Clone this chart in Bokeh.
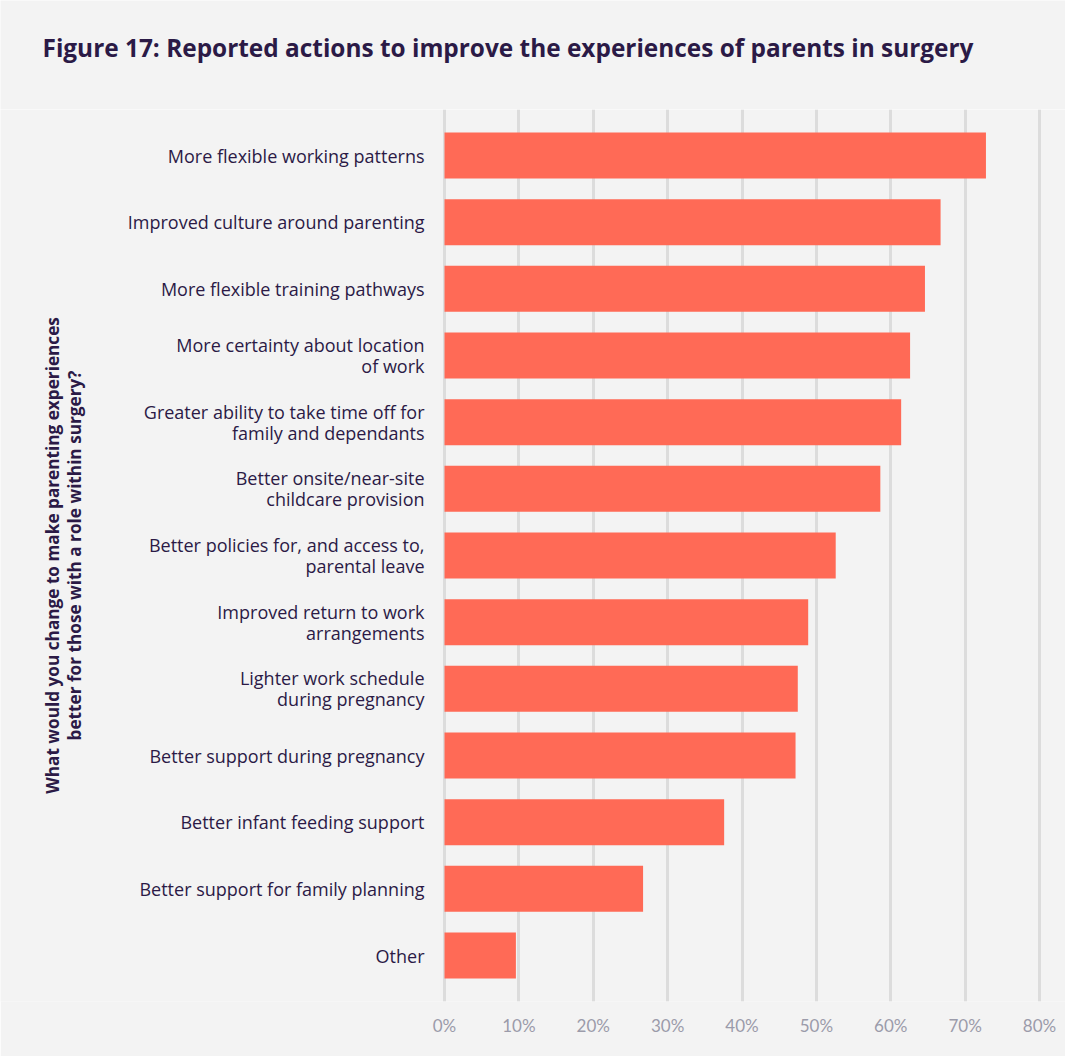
from bokeh.plotting import figure
from bokeh.layouts import column
from bokeh.models import Range1d, FixedTicker, PrintfTickFormatter, ColumnDataSource
from bokeh.core.properties import value
from bokeh.embed import file_html
from bokeh.resources import INLINE
import math

categories = [
    "More flexible working patterns",
    "Improved culture around parenting",
    "More flexible training pathways",
    "More certainty about location\nof work",
    "Greater ability to take time off for\nfamily and dependants",
    "Better onsite/near-site\nchildcare provision",
    "Better policies for, and access to,\nparental leave",
    "Improved return to work\narrangements",
    "Lighter work schedule\nduring pregnancy",
    "Better support during pregnancy",
    "Better infant feeding support",
    "Better support for family planning",
    "Other",
]
values = [72.8, 66.7, 64.6, 62.6, 61.4, 58.6, 52.6, 48.9, 47.5, 47.2, 37.6, 26.7, 9.6]
tick_values = [0, 10, 20, 30, 40, 50, 60, 70, 80]
title_text = "Figure 17: Reported actions to improve the experiences of parents in surgery"
yaxis_title = "What would you change to make parenting experiences\nbetter for those with a role within surgery?"

BG = "#f3f3f3"
DARK = "#2b1a46"
BAR = "#ff6a56"

W, H = 1065, 1056
TOP_H = 109
frame_bottom = 1001
px_per_unit = (1039 - 444) / 80.0
x_start = -444 / px_per_unit
x_end = x_start + W / px_per_unit

n = len(categories)
pad = 0.69

# Title strip
t = figure(width=W, height=TOP_H, output_backend="svg", toolbar_location=None,
           x_range=Range1d(0, W), y_range=Range1d(TOP_H, 0),
           x_axis_location=None, y_axis_location=None,
           min_border=0, background_fill_color=BG, border_fill_color=BG,
           outline_line_color=None)
t.xgrid.visible = False
t.ygrid.visible = False
t.text(x=[42], y=[47], text=[title_text], text_align="left", text_baseline="middle",
       text_font=value("Open Sans"), text_font_size="24.4px", text_font_style="bold",
       text_color=DARK)

# Main chart
p = figure(width=W, height=H - TOP_H, output_backend="svg", toolbar_location=None,
           x_range=Range1d(x_start, x_end), y_range=Range1d(n - 1 + pad, -pad),
           y_axis_location=None, min_border_left=0, min_border_right=0,
           min_border_top=0, min_border_bottom=H - frame_bottom,
           background_fill_color=BG, border_fill_color=BG, outline_line_color=None)

ticker = FixedTicker(ticks=tick_values)
p.xaxis.ticker = ticker
p.xaxis.formatter = PrintfTickFormatter(format="%d%%")
p.xaxis.axis_line_color = None
p.xaxis.major_tick_line_color = None
p.xaxis.minor_tick_line_color = None
p.xaxis.major_tick_out = 0
p.xaxis.major_tick_in = 0
p.xaxis.major_label_standoff = 13
p.xaxis.major_label_text_font = "Lato"
p.xaxis.major_label_text_font_size = "17px"
p.xaxis.major_label_text_color = "#9b9baa"

p.xgrid.ticker = ticker
p.xgrid.grid_line_color = "#dcdcdc"
p.xgrid.grid_line_width = 3
p.ygrid.grid_line_color = None

src = ColumnDataSource(dict(y=list(range(n)), v=values, cat=categories,
                            lx=[-20 / px_per_unit] * n))
p.hbar(y="y", left=0, right="v", height=0.69, source=src, fill_color=BAR, line_color=None)

p.text(x="lx", y="y", text="cat", source=src, text_align="right", text_baseline="middle",
       text_font=value("Open Sans"), text_font_size="18px", text_color=DARK, text_line_height=0.88)

p.text(x=[(63 - 444) / px_per_unit], y=[6.0], text=[yaxis_title], angle=math.pi / 2,
       text_align="center", text_baseline="middle", text_font=value("Open Sans"),
       text_font_size="17.2px", text_font_style="bold", text_color=DARK, text_line_height=0.94)

layout = column(t, p, spacing=0)
open("out.html", "w").write(file_html(layout, INLINE))
